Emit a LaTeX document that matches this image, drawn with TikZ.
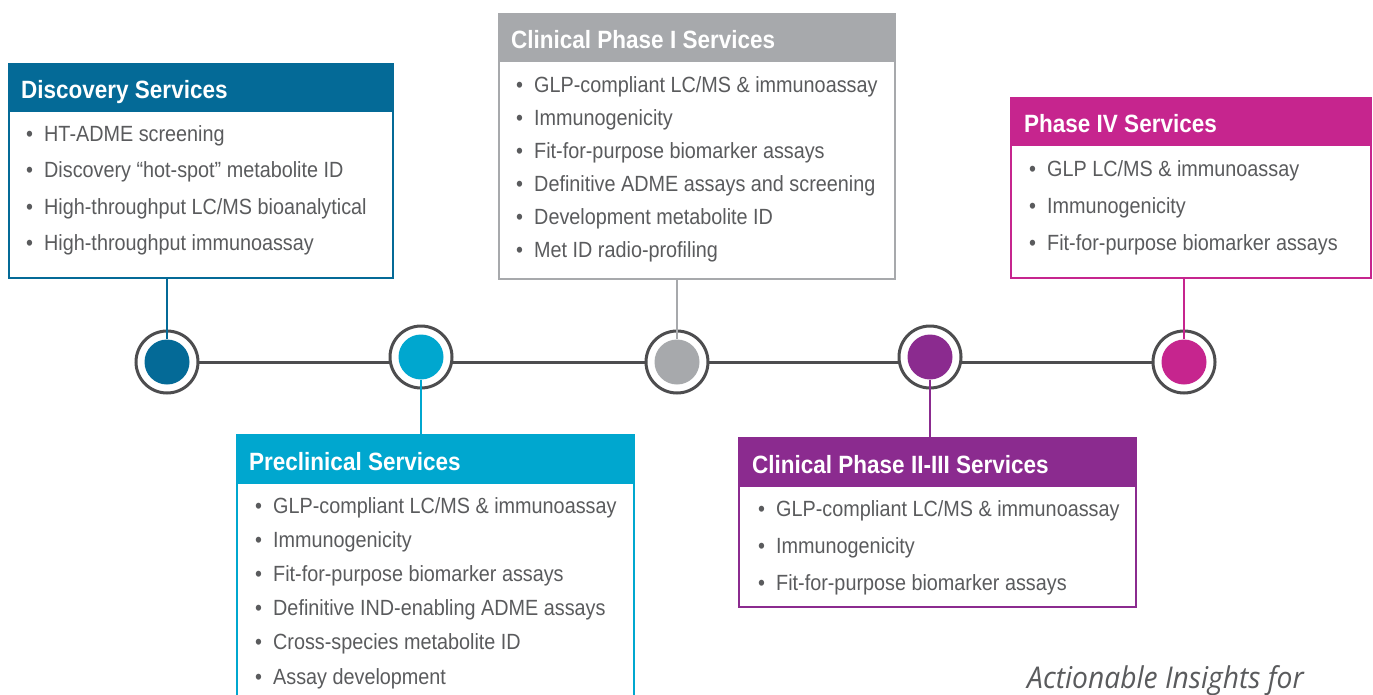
\documentclass[tikz,border=0pt]{standalone}
\usepackage{fontspec}
\setmainfont{Liberation Sans}[FakeStretch=0.9]
\newfontfamily\hdfont{Liberation Sans}[FakeStretch=0.9]
\newfontfamily\tagfont{Open Sans}[FakeStretch=0.94]
\definecolor{cdisc}{HTML}{046A97}
\definecolor{cpre}{HTML}{00A7CF}
\definecolor{cph1}{HTML}{A7A9AC}
\definecolor{cph23}{HTML}{8B2B8F}
\definecolor{cph4}{HTML}{C6258E}
\definecolor{cline}{HTML}{4D4D4F}
\definecolor{ctext}{HTML}{5A5B5D}
\newcommand\bul{\makebox[18pt][l]{\textbullet}}
\newcommand\itemlist[5]{%
  \foreach \t [count=\i from 0] in {#5}
    \node[item] (#1-\i) at (#2,#3+\i*#4) {\bul\t};}
\tikzset{
  x=1pt, y=-1pt,
  frame/.style={draw=#1, line width=2pt, fill=white, anchor=north west, inner sep=0pt},
  header/.style={fill=#1, anchor=north west, inner sep=0pt, minimum height=49pt},
  title/.style={anchor=base west, inner sep=0pt, text=white, font=\hdfont\bfseries\fontsize{25}{30}\selectfont},
  item/.style={anchor=base west, inner sep=0pt, text=ctext, font=\fontsize{22}{26}\selectfont},
  ring/.style={circle, draw=cline, line width=3pt, fill=white, minimum size=62pt, inner sep=0pt},
  dot/.style={circle, fill=#1, minimum size=45pt, inner sep=0pt},
  conn/.style={draw=#1, line width=2.5pt},
}
\begin{document}
\begin{tikzpicture}
\clip (0,0) rectangle (1373,694);
\useasboundingbox (0,0) rectangle (1373,694);
\fill[white] (0,0) rectangle (1373,694);

% timeline
\coordinate (t1) at (167,362);
\coordinate (t5) at (1184,362);
\draw[cline, line width=3pt] (t1) -- (t5);

% circles
\node[ring] (c1) at (167,362) {};
\node[dot=cdisc] (d1) at (c1) {};
\node[ring] (c2) at (421,357) {};
\node[dot=cpre] (d2) at (c2) {};
\node[ring] (c3) at (677,362) {};
\node[dot=cph1] (d3) at (c3) {};
\node[ring] (c4) at (930,357) {};
\node[dot=cph23] (d4) at (c4) {};
\node[ring] (c5) at (1184,362) {};
\node[dot=cph4] (d5) at (c5) {};

% Discovery
\node[frame=cdisc, minimum width=384pt, minimum height=214pt] (disc) at (8,63) {};
\node[header=cdisc, minimum width=384pt] (disch) at (disc.north west) {};
\node[title] (disct) at (21,98) {Discovery Services};
\itemlist{disc}{26}{141}{36.5}{HT-ADME screening, Discovery “hot-spot” metabolite ID, High-throughput LC/MS bioanalytical, High-throughput immunoassay}

% Clinical Phase I
\node[frame=cph1, minimum width=396pt, minimum height=265pt] (ph1) at (498,13) {};
\node[header=cph1, minimum width=396pt] (ph1h) at (ph1.north west) {};
\node[title] (ph1t) at (511,48) {Clinical Phase I Services};
\itemlist{ph1}{516}{92}{33}{GLP-compliant LC/MS \& immunoassay, Immunogenicity, Fit-for-purpose biomarker assays, Definitive ADME assays and screening, Development metabolite ID, Met ID radio-profiling}

% Phase IV
\node[frame=cph4, minimum width=360pt, minimum height=180pt] (ph4) at (1010,97) {};
\node[header=cph4, minimum width=360pt] (ph4h) at (ph4.north west) {};
\node[title] (ph4t) at (1024,132) {Phase IV Services};
\itemlist{ph4}{1029}{176}{37}{GLP LC/MS \& immunoassay, Immunogenicity, Fit-for-purpose biomarker assays}

% Preclinical
\node[frame=cpre, minimum width=397pt, minimum height=280pt] (pre) at (236,434) {};
\node[header=cpre, minimum width=397pt, minimum height=50pt] (preh) at (pre.north west) {};
\node[title] (pret) at (249,470) {Preclinical Services};
\itemlist{pre}{255}{513}{34.2}{GLP-compliant LC/MS \& immunoassay, Immunogenicity, Fit-for-purpose biomarker assays, Definitive IND-enabling ADME assays, Cross-species metabolite ID, Assay development}

% Clinical Phase II-III
\node[frame=cph23, minimum width=397pt, minimum height=169pt] (ph23) at (738,437) {};
\node[header=cph23, minimum width=397pt, minimum height=50pt] (ph23h) at (ph23.north west) {};
\node[title] (ph23t) at (752,473) {Clinical Phase II-III Services};
\itemlist{ph23}{758}{516}{37}{GLP-compliant LC/MS \& immunoassay, Immunogenicity, Fit-for-purpose biomarker assays}

% connectors
\draw[conn=cdisc] (disc.south -| d1.north) -- (d1.north);
\draw[conn=cpre] (d2.south) -- (pre.north -| d2.south);
\draw[conn=cph1] (ph1.south -| d3.north) -- (d3.north);
\draw[conn=cph23] (d4.south) -- (ph23.north -| d4.south);
\draw[conn=cph4] (ph4.south -| d5.north) -- (d5.north);

% tagline
\node[anchor=base west, inner sep=0pt, text=ctext, font=\tagfont\itshape\fontsize{30}{36}\selectfont] (tag) at (1027,688) {Actionable Insights for};
\end{tikzpicture}
\end{document}
